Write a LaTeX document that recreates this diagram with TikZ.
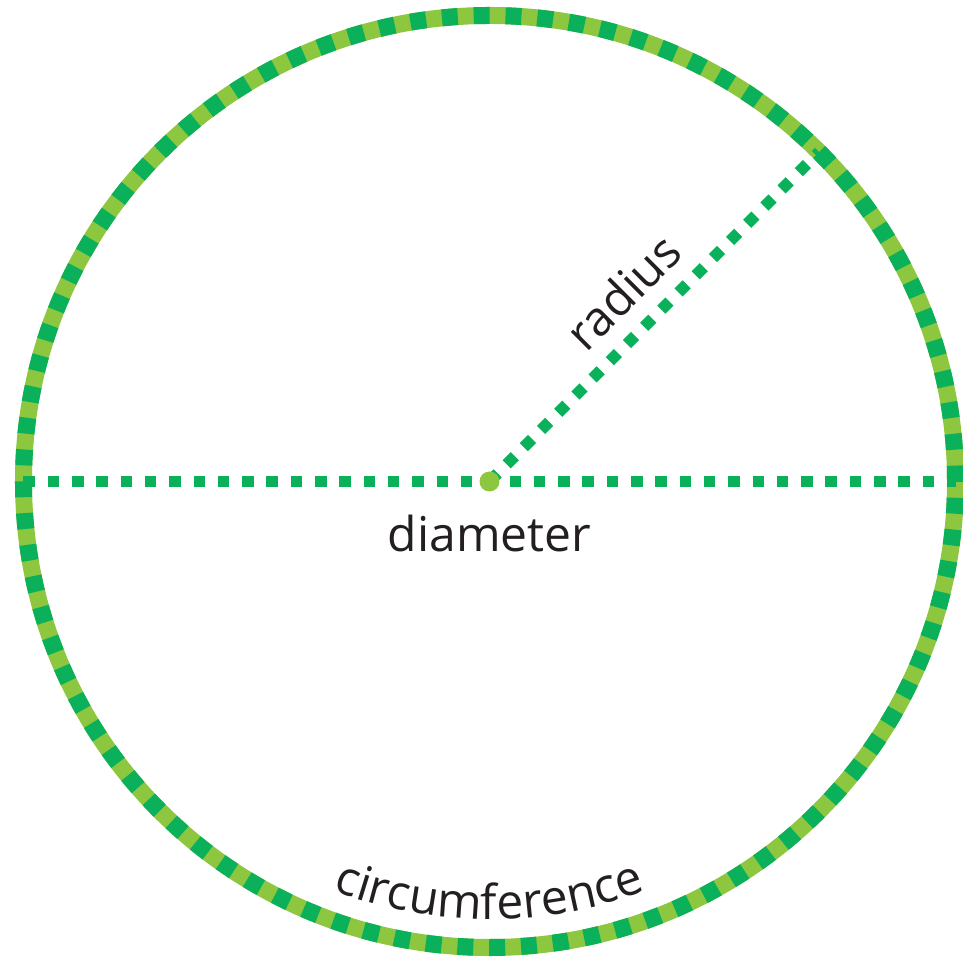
\documentclass[tikz,border=0pt]{standalone}
\usepackage{fontspec}
\setmainfont{Open Sans}
\usetikzlibrary{decorations.text}
\definecolor{dkgreen}{HTML}{0BB15A}
\definecolor{ltgreen}{HTML}{8DC63F}
\definecolor{ink}{HTML}{231F20}

\begin{document}
\begin{tikzpicture}[x=1pt, y=1pt, every node/.style={font=\fontsize{48}{56}\selectfont, text=ink}, dots/.style={dkgreen, line width=11.5pt, dash pattern=on 11.5pt off 12.8pt}]
	\useasboundingbox (-489.5,-475.5) rectangle (473.5,481.5);
	\coordinate (o) at (0,0);
	\coordinate (dl) at (180:466);
	\coordinate (dr) at (0:466);
	\coordinate (r) at (45:466);
	% rim: light band with dark dashes on top
	\draw[ltgreen, line width=17pt] (o) circle[radius=466];
	\draw[dkgreen, line width=17pt, dash pattern=on 15.913pt off 15.913pt] (o) circle[radius=466];
	\draw[dots] (dl) -- (dr);
	\draw[dots] (o) -- node[sloped, pos=0.49, anchor=base, yshift=22pt] (rlabel) {radius} (r);
	\node[anchor=base] (dlabel) at (0,-70.5) {diameter};
	\path[decorate, decoration={text along path, text align=center, text={|\fontsize{48}{56}\selectfont\color{ink}|circumference}}] (230:438) arc[start angle=230, end angle=310, radius=438];
	\node[circle, fill=ltgreen, minimum size=20pt, inner sep=0pt] (c) at (o) {};
\end{tikzpicture}
\end{document}
